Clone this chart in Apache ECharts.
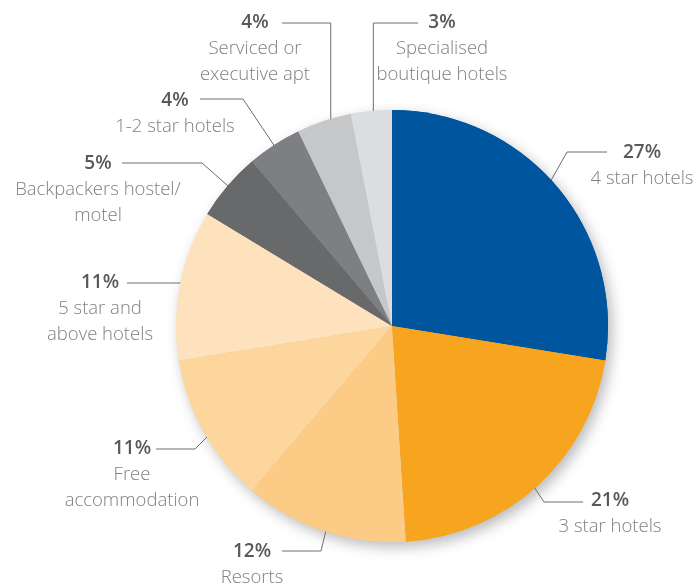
<!DOCTYPE html>
<html>
<head>
<meta charset="utf-8">
<script src="https://cdn.jsdelivr.net/npm/echarts@6/dist/echarts.min.js"></script>
<style>
  html, body { margin: 0; padding: 0; background: #ffffff; }
  #chart { width: 697px; height: 588px; }
</style>
</head>
<body>
<div id="chart"></div>
<script>
// Accommodation types, share of nights (%)
const categories = [
  '4 star hotels', '3 star hotels', 'Resorts', 'Free accommodation',
  '5 star and above hotels', 'Backpackers hostel/motel', '1-2 star hotels',
  'Serviced or executive apt', 'Specialised boutique hotels'
];
const shares = [27, 21, 12, 11, 11, 5, 4, 4, 3];
const labelText = [
  ['4 star hotels'], ['3 star hotels'], ['Resorts'], ['Free', 'accommodation'],
  ['5 star and', 'above hotels'], ['Backpackers hostel/', 'motel'], ['1-2 star hotels'],
  ['Serviced or', 'executive apt'], ['Specialised', 'boutique hotels']
];
const colors = [
  '#00559f', '#f7a51e', '#fccb86', '#fdd69e', '#fde2bd',
  '#68696b', '#7e7f83', '#c6c7c9', '#dcdde0'
];

// Pie geometry (pixels)
const CX = 392, CY = 326, R = 216;
const ANCHOR_R = 0.9 * R;

// Callout placement: x/y = centre of the percentage line; elbow = bend of the leader;
// end = x where the leader stops next to the text.
const callouts = [
  { x: 642, y: 153, elbow: [567, 152], end: 607 },
  { x: 610, y: 501, elbow: [544, 502], end: 583 },
  { x: 252, y: 552, elbow: [321, 551], end: 282 },
  { x: 132, y: 449, elbow: [195, 449], end: 156 },
  { x: 100, y: 283, mode: 'h', end: 127 },
  { x: 98,  y: 164, elbow: [202, 163], end: 122 },
  { x: 175, y: 101, elbow: [243, 99], end: 200 },
  { x: 255, y: 23,  mode: 'v', end: 282 },
  { x: 442, y: 23,  mode: 'v', end: 418 }
];

const total = shares.reduce((a, b) => a + b, 0);
const cumulative = [];
shares.reduce((acc, v, i) => { cumulative[i] = acc; return acc + v; }, 0);

// Point inside a slice on its middle angle (clockwise from 12 o'clock)
function sliceAnchor(i) {
  const a = (cumulative[i] + shares[i] / 2) / total * Math.PI * 2;
  return [CX + ANCHOR_R * Math.sin(a), CY - ANCHOR_R * Math.cos(a)];
}

function leaderPoints(i) {
  const c = callouts[i];
  if (c.mode === 'h') {
    const dy = c.y - CY;
    const sx = CX - Math.sqrt(ANCHOR_R * ANCHOR_R - dy * dy);
    return [[sx, c.y], [c.end, c.y]];
  }
  const s = sliceAnchor(i);
  if (c.mode === 'v') {
    return [s, [s[0], c.y], [c.end, c.y]];
  }
  return [s, c.elbow, [c.end, c.elbow[1]]];
}

const pieData = categories.map((name, i) => ({
  name: name,
  value: shares[i],
  itemStyle: { color: colors[i] }
}));

const FONT = '"Open Sans", "Noto Sans", sans-serif';

const chart = echarts.init(document.getElementById('chart'), null, { renderer: 'canvas' });
chart.setOption({
  backgroundColor: '#ffffff',
  animation: false,
  series: [
    {
      // soft drop shadow under the pie
      type: 'pie',
      silent: true,
      z: 1,
      center: [CX, CY],
      radius: R,
      startAngle: 90,
      clockwise: true,
      label: { show: false },
      labelLine: { show: false },
      itemStyle: {
        shadowBlur: 14,
        shadowColor: 'rgba(0,0,0,0.28)',
        shadowOffsetX: 4,
        shadowOffsetY: 5
      },
      data: pieData
    },
    {
      type: 'pie',
      z: 2,
      center: [CX, CY],
      radius: R,
      startAngle: 90,
      clockwise: true,
      avoidLabelOverlap: false,
      silent: true,
      data: pieData,
      itemStyle: { borderWidth: 0 },
      label: {
        show: true,
        position: 'outside',
        fontFamily: FONT,
        formatter: function (p) {
          const lines = labelText[p.dataIndex].map(t => '{n|' + t + '}');
          return '{p|' + p.value + '%}\n' + lines.join('\n');
        },
        rich: {
          p: { fontFamily: FONT, fontSize: 19, fontWeight: 600, color: '#58595b', lineHeight: 26, align: 'center' },
          n: { fontFamily: FONT, fontSize: 18.5, fontWeight: 300, color: '#7f8083', lineHeight: 26, align: 'center' }
        }
      },
      labelLine: {
        show: true,
        smooth: false,
        lineStyle: { color: '#6d6e71', width: 1 }
      },
      labelLayout: function (params) {
        const i = params.dataIndex;
        const c = callouts[i];
        return {
          x: c.x,
          y: c.y - 13,
          align: 'center',
          verticalAlign: 'top',
          labelLinePoints: leaderPoints(i)
        };
      }
    }
  ]
});
</script>
</body>
</html>
